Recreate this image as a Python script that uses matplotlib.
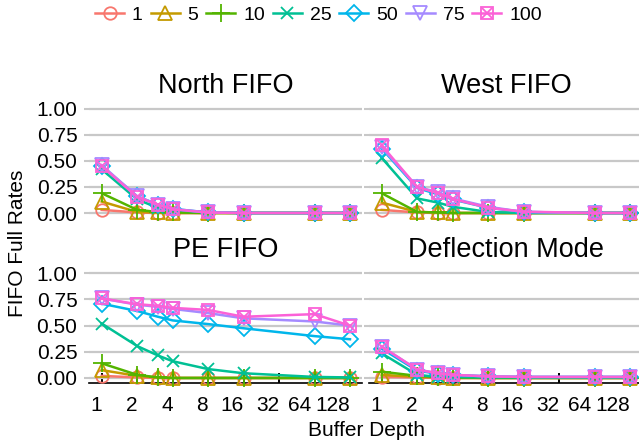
import matplotlib
matplotlib.use("Agg")
import matplotlib.pyplot as plt
import matplotlib.transforms as mtransforms
import numpy as np
from matplotlib.legend_handler import HandlerTuple

plt.rcParams['font.family'] = ['Liberation Sans', 'DejaVu Sans']

depths = [1, 2, 3, 4, 8, 16, 64, 128]
series = ["1", "5", "10", "25", "50", "75", "100"]
colors = ["#F8766D", "#C49A00", "#53B400", "#00C094", "#00B6EB", "#A58AFF", "#FB61D7"]
panels = ["North FIFO", "West FIFO", "PE FIFO", "Deflection Mode"]

north = {
    "1":   [0.03, 0.005, 0, 0, 0, 0, 0, 0],
    "5":   [0.11, 0.01, 0.005, 0, 0, 0, 0, 0],
    "10":  [0.19, 0.03, 0.01, 0.005, 0, 0, 0, 0],
    "25":  [0.42, 0.13, 0.05, 0.03, 0.005, 0, 0, 0],
    "50":  [0.45, 0.16, 0.08, 0.04, 0.005, 0, 0, 0],
    "75":  [0.46, 0.16, 0.08, 0.04, 0.005, 0, 0, 0],
    "100": [0.45, 0.155, 0.08, 0.035, 0.005, 0, 0, 0],
}
west = {
    "1":   [0.03, 0.005, 0, 0, 0, 0, 0, 0],
    "5":   [0.10, 0.01, 0.005, 0, 0, 0, 0, 0],
    "10":  [0.19, 0.01, 0.005, 0, 0, 0, 0, 0],
    "25":  [0.53, 0.14, 0.10, 0.06, 0.01, 0, 0, 0],
    "50":  [0.62, 0.24, 0.18, 0.13, 0.05, 0.01, 0, 0],
    "75":  [0.63, 0.25, 0.20, 0.14, 0.06, 0.01, 0, 0],
    "100": [0.65, 0.25, 0.19, 0.135, 0.05, 0.013, 0, 0],
}
pe = {
    "1":   [0.02, 0.005, 0, 0, 0, 0, 0, 0],
    "5":   [0.075, 0.02, 0.005, 0, 0, 0, 0, 0],
    "10":  [0.14, 0.03, 0.005, 0, 0, 0, 0, 0],
    "25":  [0.52, 0.305, 0.215, 0.16, 0.085, 0.045, 0.01, 0.005],
    "50":  [0.71, 0.64, 0.585, 0.55, 0.515, 0.475, 0.40, 0.37],
    "75":  [0.76, 0.70, 0.68, 0.66, 0.62, 0.57, 0.54, 0.50],
    "100": [0.76, 0.705, 0.69, 0.67, 0.65, 0.585, 0.61, 0.50],
}
deflection = {
    "1":   [0.01, 0.005, 0, 0, 0, 0, 0, 0],
    "5":   [0.03, 0.01, 0.005, 0, 0, 0, 0, 0],
    "10":  [0.06, 0.02, 0.01, 0.005, 0, 0, 0, 0],
    "25":  [0.235, 0.03, 0.01, 0.01, 0.005, 0.005, 0.005, 0.005],
    "50":  [0.28, 0.07, 0.04, 0.03, 0.015, 0.01, 0.01, 0.01],
    "75":  [0.30, 0.08, 0.045, 0.03, 0.015, 0.01, 0.01, 0.01],
    "100": [0.30, 0.08, 0.045, 0.03, 0.015, 0.01, 0.01, 0.01],
}
panel_data = [north, west, pe, deflection]

xticks = [1, 2, 4, 8, 16, 32, 64, 128]
yticks = [0.0, 0.25, 0.5, 0.75, 1.0]
ytick_labels = ["0.00", "0.25", "0.50", "0.75", "1.00"]

W, H = 639, 445
fig = plt.figure(figsize=(W / 100, H / 100), dpi=100)

def px_axes(x0, y0, x1, y1):
    return fig.add_axes([x0 / W, 1 - y1 / H, (x1 - x0) / W, (y1 - y0) / H])

boxes = [(89.3, 103.8, 362.4, 218.2), (369.3, 103.8, 642.4, 218.2),
         (89.3, 268.1, 362.4, 383.2), (369.3, 268.1, 642.4, 383.2)]

marker_specs = [
    dict(marker='o', ms=9, mfc='none'),
    dict(marker='^', ms=10, mfc='none'),
    dict(marker='+', ms=13),
    dict(marker='x', ms=9),
    dict(marker='D', ms=8.5, mfc='none'),
    dict(marker='v', ms=10, mfc='none'),
    dict(marker='s', ms=9, mfc='none'),
]

legend_handles = []
for i, (title, data) in enumerate(zip(panels, panel_data)):
    ax = px_axes(*boxes[i])
    lx = np.log2(depths)
    for j, s in enumerate(series):
        spec = marker_specs[j]
        h, = ax.plot(lx, data[s], color=colors[j], lw=1.8, mew=1.3, clip_on=False,
                     zorder=3 + j, **spec)
        if s == "100":
            h2, = ax.plot(lx, data[s], color=colors[j], lw=0, marker='x', ms=6.5,
                          mew=1.3, zorder=3 + j, clip_on=False)
            if i == 0:
                legend_handles.append((h, h2))
        elif i == 0:
            legend_handles.append(h)
    ax.set_xlim(-0.35, 7.35)
    ax.set_ylim(-0.05, 1.05)
    ax.set_yticks(yticks)
    ax.set_xticks(np.log2(xticks))
    for sp in ax.spines.values():
        sp.set_visible(False)
    ax.grid(axis='y', color='#C8C8C8', lw=1.6, zorder=0)
    ax.set_axisbelow(True)
    ax.tick_params(axis='y', length=3.5, width=1.5, color='#C8C8C8', pad=5,
                   labelsize=15, labelcolor='black')
    if i % 2 == 0:
        ax.set_yticklabels(ytick_labels)
    else:
        ax.set_yticklabels([])
    if i >= 2:
        ax.spines['bottom'].set_visible(True)
        ax.spines['bottom'].set_color('black')
        ax.spines['bottom'].set_linewidth(1.2)
        ax.tick_params(axis='x', direction='in', length=7, width=1.4, color='black',
                       pad=9, labelsize=15)
        labels = ax.set_xticklabels([str(t) for t in xticks], ha='right')
        for t, lab in zip(xticks, labels):
            if t == 64:
                lab.set_transform(lab.get_transform() +
                                  mtransforms.ScaledTranslation(-3 / 100, 0, fig.dpi_scale_trans))
    else:
        ax.tick_params(axis='x', length=0, labelbottom=False)
    ax.text(0.5, 1.0 + 18 / 114.4, title, transform=ax.transAxes, ha='center',
            va='center', fontsize=19.5)

fig.text(367 / W, 1 - 430 / H, "Buffer Depth", ha='center', va='center', fontsize=15)
fig.text(18 / W, 1 - 243 / H, "FIFO Full Rates", ha='center', va='center',
         rotation=90, fontsize=15)

leg = fig.legend(legend_handles, series, loc='center left',
                 bbox_to_anchor=(95 / W, 1 - 15 / H),
                 ncol=7, frameon=False, fontsize=14, handlelength=1.5, handletextpad=0.4,
                 columnspacing=0.4, borderpad=0, borderaxespad=0,
                 handler_map={tuple: HandlerTuple(ndivide=1)})

fig.savefig("out.png", dpi=100)
